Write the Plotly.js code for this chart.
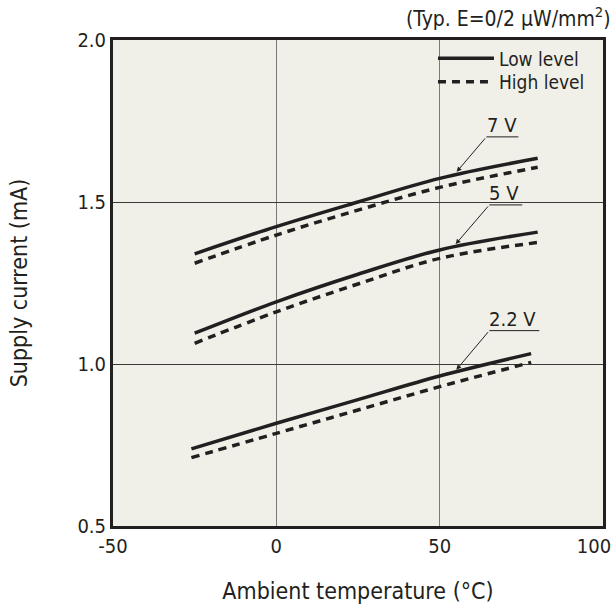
<!DOCTYPE html>
<html>
<head>
<meta charset="utf-8">
<script src="https://cdn.plot.ly/plotly-3.0.1.min.js"></script>
<style>html,body{margin:0;padding:0;background:#fff;}#chart{width:616px;height:610px;}</style>
</head>
<body>
<div id="chart"></div>
<script>
// Data
var temp = [-25, 0, 25, 50, 80];
var temp22 = [-26, 0, 25, 50, 78];
var v7Low  = [1.340, 1.424, 1.500, 1.573, 1.635];
var v7High = [1.311, 1.398, 1.475, 1.545, 1.607];
var v5Low  = [1.095, 1.192, 1.277, 1.352, 1.407];
var v5High = [1.064, 1.161, 1.247, 1.326, 1.375];
var v22Low  = [0.738, 0.817, 0.890, 0.963, 1.032];
var v22High = [0.711, 0.786, 0.858, 0.930, 1.005];
var xTicks = [-50, 0, 50];
var xTickText = ['-50', '0', '50'];
var xTicksEnd = [100];
var xTickTextEnd = ['100'];
var yTicks = [0.5, 1.0, 1.5, 2.0];
var yTickText = ['0.5', '1.0', '1.5', '2.0'];
// label annotations: [text, textX, textY, underlineX0, underlineX1, underlineY, tipX, tipY]
var labels = [
  ['7 V', 69.0, 1.738, 64.3, 74.1, 1.701, 55.2, 1.593],
  ['5 V', 69.8, 1.528, 65.2, 75.3, 1.491, 54.9, 1.370],
  ['2.2 V', 72.4, 1.139, 65.2, 80.5, 1.103, 55.1, 0.982]
];

var ink = '#231f20';
var FONT = '"DejaVu Sans Condensed", "Noto Sans", sans-serif';
var DASH = '8px,6px';

function tr(x, y, dash, show, name, leg, xa) {
  return {
    x: x, y: y, type: 'scatter', mode: 'lines', xaxis: xa || 'x', yaxis: 'y',
    line: {color: ink, width: 3.5, dash: dash, shape: 'spline'},
    showlegend: show, name: name, legend: leg, hoverinfo: 'skip'
  };
}

var data = [
  tr(temp, v7Low, 'solid', true, 'Low level', 'legend'),
  tr(temp, v7High, DASH, true, 'High level', 'legend2'),
  tr(temp, v5Low, 'solid', false, 'Low level', 'legend'),
  tr(temp, v5High, DASH, false, 'High level', 'legend2'),
  tr(temp22, v22Low, 'solid', false, 'Low level', 'legend', 'x2'),
  tr(temp22, v22High, DASH, false, 'High level', 'legend2', 'x2')
];

var shapes = [];
var annotations = [];
labels.forEach(function (l) {
  shapes.push({type: 'line', xref: 'x', yref: 'y', x0: l[3], x1: l[4], y0: l[5], y1: l[5],
    line: {color: ink, width: 1}});
  annotations.push({xref: 'x', yref: 'y', x: l[1], y: l[2], text: l[0], showarrow: false,
    font: {family: FONT, size: 20, color: ink}});
  annotations.push({xref: 'x', yref: 'y', x: l[6], y: l[7], axref: 'x', ayref: 'y', ax: l[3], ay: l[5],
    text: '', showarrow: true, arrowhead: 2, arrowsize: 1, arrowwidth: 1, arrowcolor: ink, standoff: 0});
});
annotations.push({xref: 'paper', yref: 'paper', x: 1.02, y: 1.0, xanchor: 'right', yanchor: 'bottom', yshift: 7,
  text: '(Typ. E=0/2 μW/mm<sup>2</sup>)', showarrow: false, font: {family: FONT, size: 21, color: ink}});

var legCommon = {bgcolor: 'rgba(0,0,0,0)', font: {family: FONT, size: 19, color: ink}, itemwidth: 56,
  xanchor: 'left', yanchor: 'middle', x: 0.653};

var layout = {
  width: 616, height: 610,
  margin: {l: 113, r: 13, t: 40, b: 84},
  paper_bgcolor: '#ffffff',
  plot_bgcolor: '#f1f0e8',
  font: {family: FONT, size: 20, color: ink},
  showlegend: true,
  legend: Object.assign({}, legCommon, {y: 0.962}),
  legend2: Object.assign({}, legCommon, {y: 0.914}),
  xaxis: {
    range: [-50, 100], tickvals: xTicks, ticktext: xTickText,
    showgrid: true, gridcolor: '#7a7a7a', gridwidth: 1.2,
    zeroline: false, showline: true, linecolor: ink, linewidth: 3, mirror: true,
    ticks: '', ticklen: 0, tickfont: {family: FONT, size: 20, color: ink},
    title: {text: 'Ambient temperature (°C)', font: {family: FONT, size: 23, color: ink}, standoff: 26}
  },
  xaxis2: {
    overlaying: 'x', anchor: 'y', side: 'bottom', range: [-50, 100],
    tickvals: xTicksEnd, ticktext: xTickTextEnd, ticklabelshift: -9,
    showgrid: false, zeroline: false, showline: true, linecolor: ink, linewidth: 3, ticks: '',
    tickfont: {family: FONT, size: 20, color: ink}
  },
  yaxis: {
    range: [0.5, 2.0], tickvals: yTicks, ticktext: yTickText,
    showgrid: true, gridcolor: '#3a3a3a', gridwidth: 1,
    zeroline: false, showline: true, linecolor: ink, linewidth: 3, mirror: true,
    ticks: '', ticklen: 0, tickfont: {family: FONT, size: 20, color: ink},
    title: {text: 'Supply current (mA)', font: {family: FONT, size: 23, color: ink}, standoff: 44}
  },
  shapes: shapes,
  annotations: annotations
};

Plotly.newPlot('chart', data, layout, {displayModeBar: false, staticPlot: true});
</script>
</body>
</html>
